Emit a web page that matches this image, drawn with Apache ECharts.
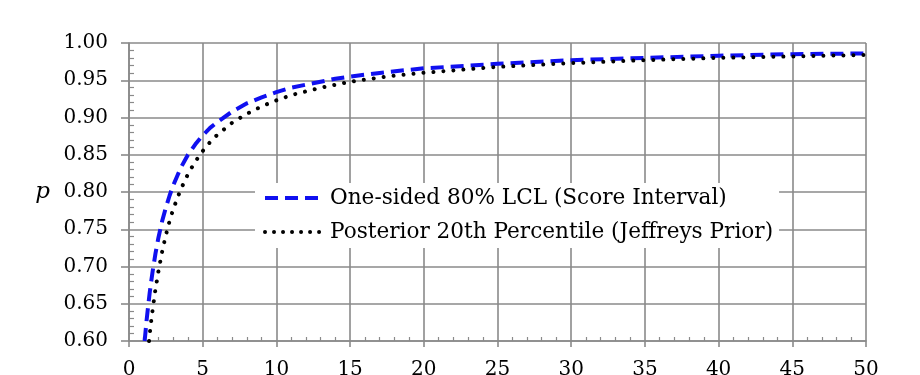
<!DOCTYPE html>
<html><head><meta charset="utf-8">
<script src="https://cdn.jsdelivr.net/npm/echarts@6/dist/echarts.min.js"></script>
<style>html,body{margin:0;padding:0;background:#fff}#c{width:920px;height:375px}</style>
</head><body><div id="c"></div>
<script>
// Values
const scoreX = [1.06, 1.1, 1.2, 1.3, 1.4, 1.5, 1.6, 1.8, 2, 2.25, 2.5, 2.75, 3, 3.5, 4, 4.5, 5, 5.5, 6, 7, 8, 9, 10, 11, 12, 13, 14, 15, 17.5, 20, 25, 30, 35, 40, 45, 50];
const scoreY = [0.600, 0.608, 0.629, 0.647, 0.664, 0.679, 0.693, 0.718, 0.739, 0.761, 0.779, 0.795, 0.809, 0.832, 0.850, 0.864, 0.876, 0.886, 0.894, 0.908, 0.919, 0.927, 0.934, 0.940, 0.944, 0.948, 0.952, 0.955, 0.961, 0.966, 0.972, 0.977, 0.980, 0.983, 0.985, 0.986];
const jeffX = [1.36, 1.45, 1.55, 1.65, 1.8, 2, 2.25, 2.5, 2.75, 3, 3.5, 4, 4.5, 5, 5.5, 6, 7, 8, 9, 10, 11, 12, 13, 14, 15, 17.5, 20, 25, 30, 35, 40, 45, 50];
const jeffY = [0.600, 0.617, 0.634, 0.649, 0.670, 0.694, 0.720, 0.742, 0.761, 0.777, 0.803, 0.824, 0.841, 0.855, 0.867, 0.877, 0.893, 0.905, 0.915, 0.923, 0.930, 0.935, 0.940, 0.944, 0.948, 0.955, 0.960, 0.968, 0.973, 0.977, 0.980, 0.982, 0.984];
const seriesNames = ['One-sided 80% LCL (Score Interval)', 'Posterior 20th Percentile (Jeffreys Prior)'];
const yAxisName = 'p';

const gridColor = '#8a8a8a';
const serif = 'DejaVu Serif';
const blue = '#1010f0';
const toPairs = (xs, ys) => xs.map((x, i) => [x, ys[i]]);
const blueLine = {color: blue, width: 4, type: [13, 7]};
const blackLine = {color: '#000', width: 4, type: [0.01, 10], cap: 'round'};

const chart = echarts.init(document.getElementById('c'), null, {renderer: 'canvas'});
const gridBox = {left: 129, right: 54, top: 43, bottom: 34, containLabel: false, outerBoundsMode: 'none'};
chart.setOption({
  backgroundColor: '#fff',
  animation: false,
  grid: [Object.assign({}, gridBox), Object.assign({}, gridBox)],
  legend: {
    orient: 'vertical', left: 255, top: 183,
    backgroundColor: '#fff', padding: [4, 6, 5, 8],
    itemWidth: 57, itemHeight: 14, itemGap: 12,
    itemStyle: {opacity: 0},
    textStyle: {fontFamily: serif, fontSize: 21.6, color: '#000', lineHeight: 22, padding: [0, 0, 0, 3]},
    data: [
      {name: seriesNames[0], lineStyle: blueLine, itemStyle: {opacity: 0}},
      {name: seriesNames[1], lineStyle: {color: '#000', width: 4, type: [0.01, 9], cap: 'round'}, itemStyle: {opacity: 0}}
    ]
  },
  xAxis: [{
    gridIndex: 0, type: 'value', min: 0, max: 50, interval: 5,
    axisLine: {show: true, lineStyle: {color: gridColor, width: 1.6}},
    axisTick: {show: true, length: 6, lineStyle: {color: gridColor, width: 1.6}},
    axisLabel: {margin: 19, fontFamily: serif, fontSize: 20, color: '#000'},
    splitLine: {show: true, lineStyle: {color: gridColor, width: 1.6}}
  }, {
    gridIndex: 1, type: 'value', min: 0, max: 50, interval: 5, position: 'bottom',
    axisLine: {show: false}, axisLabel: {show: false}, splitLine: {show: false},
    axisTick: {show: false, inside: true},
    minorTick: {show: true, splitNumber: 5, length: 4, lineStyle: {color: gridColor, width: 1.2}}
  }],
  yAxis: [{
    gridIndex: 0, type: 'value', min: 0.6, max: 1.0, interval: 0.05,
    name: yAxisName, nameLocation: 'middle', nameRotate: 0, nameGap: 79,
    nameTextStyle: {fontFamily: serif, fontStyle: 'italic', fontSize: 23, color: '#000'},
    axisLine: {show: true, lineStyle: {color: gridColor, width: 1.6}},
    axisTick: {show: true, length: 8, lineStyle: {color: gridColor, width: 1.6}},
    axisLabel: {margin: 21, fontFamily: serif, fontSize: 20, color: '#000', formatter: v => v.toFixed(2)},
    splitLine: {show: true, lineStyle: {color: gridColor, width: 1.6}}
  }, {
    gridIndex: 1, type: 'value', min: 0.6, max: 1.0, interval: 0.05, position: 'left',
    axisLine: {show: false}, axisLabel: {show: false}, splitLine: {show: false},
    axisTick: {show: false, inside: true},
    minorTick: {show: true, splitNumber: 5, length: 5, lineStyle: {color: gridColor, width: 1.2}}
  }],
  series: [{
    name: seriesNames[0], type: 'line', xAxisIndex: 0, yAxisIndex: 0,
    data: toPairs(scoreX, scoreY), showSymbol: false, symbol: 'none', smooth: false,
    color: blue, lineStyle: blueLine, z: 3
  }, {
    name: seriesNames[1], type: 'line', xAxisIndex: 0, yAxisIndex: 0,
    data: toPairs(jeffX, jeffY), showSymbol: false, symbol: 'none', smooth: false,
    color: '#000', lineStyle: blackLine, z: 4
  }]
});
</script>
</body></html>
